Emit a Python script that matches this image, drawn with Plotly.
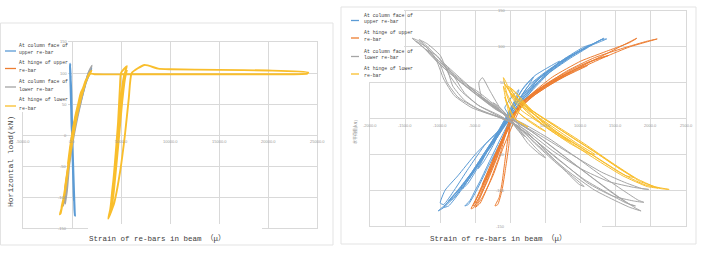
import plotly.graph_objects as go

W, H = 704, 260

# ---------------- data ----------------
SERIES_NAMES = [["At column face of", "upper re-bar"],
                ["At hinge of upper", "re-bar"],
                ["At column face of", "lower re-bar"],
                ["At hinge of lower", "re-bar"]]
COLORS = ["#5B9BD5", "#ED7D31", "#A5A5A5", "#F9BE2C"]

X_TITLE = "Strain of re-bars in beam （μ）"
Y_TITLE_L = "Horizontal load(kN)"
Y_TITLE_R = "水平荷重(kN)"

L_XTICKS = [-5000, 0, 5000, 10000, 15000, 20000, 25000]
L_YTICKS = [-150, -100, -50, 0, 50, 100, 150]
R_XTICKS = [-2000, -1500, -1000, -500, 0, 500, 1000, 1500, 2000, 2500]
R_YTICKS = [-150, -100, -50, 0, 50, 100, 150]

# left chart (strain, load)
L_BLUE = [(0, 0), (-80, 40), (-150, 80), (-200, 110), (-180, 115), (-100, 70), (0, 10), (100, -40),
          (200, -90), (280, -125), (300, -130), (250, -120), (150, -70), (50, -15), (-50, 30),
          (-150, 90), (-120, 95), (-30, 40), (80, -30), (180, -85), (230, -110), (180, -100),
          (80, -45), (0, 0), (600, 40), (1300, 80), (2000, 108), (1700, 100), (900, 55), (200, 10), (0, 0)]
L_ORANGE = [(0, 0), (300, 25), (800, 55), (1300, 80), (900, 60), (300, 20), (-300, -40), (-700, -85),
            (-400, -55), (0, 0)]
L_GRAY = [(0, 0), (400, 30), (900, 60), (1500, 90), (2040, 112), (1800, 105), (1200, 75), (500, 30),
          (-100, -20), (-500, -70), (-800, -105), (-900, -114), (-700, -100), (-300, -50), (200, 10),
          (800, 55), (1600, 95), (1900, 108), (1500, 90), (800, 45), (100, -10), (-400, -65),
          (-700, -111), (-500, -90), (0, 0)]
L_YELLOW = [(0, 0), (300, 25), (600, 45), (400, 35), (100, 10), (-200, -20), (-400, -45), (-250, -30), (0, 0),
            (400, 35), (800, 60), (1100, 75), (900, 68), (500, 40), (100, 5), (-300, -40), (-600, -72),
            (-800, -95), (-650, -85), (-350, -50), (0, -10),
            (400, 30), (900, 62), (1300, 82), (1600, 92), (1400, 88), (1000, 68), (500, 35), (0, -5),
            (-400, -55), (-800, -98), (-1100, -118), (-1000, -115), (-700, -88), (-300, -45), (100, 5),
            (600, 42), (1100, 72), (1500, 90), (1800, 98), (2000, 104), (1700, 98), (1200, 75), (700, 45),
            (200, 5), (-300, -45), (-700, -90), (-1000, -115), (-1250, -128), (-1150, -126), (-850, -100),
            (-450, -60), (0, -5),
            (500, 40), (1000, 70), (1500, 90), (1900, 99), (2300, 98), (6000, 98), (12000, 98),
            (18000, 98), (24000, 99), (24100, 101), (20000, 104), (15000, 105), (10000, 106),
            (8800, 107), (7400, 113), (6100, 100), (5800, 60), (5400, 0), (4900, -60), (4300, -110),
            (3700, -135), (3900, -120), (4300, -60), (4700, 20), (4900, 80), (5000, 100), (5600, 111),
            (5300, 95), (5000, 60), (4600, -20), (4100, -90), (3900, -125), (4200, -100), (4700, -20),
            (5100, 50), (5400, 90), (5600, 105)]

# right chart (strain, load)
R_BLUE = [(0, 0), (-80, 15), (20, 30), (120, 40), (60, 25), (-50, 5), (-150, -15), (-250, -35), (-180, -25),
          (-60, -5), (50, 20), (200, 45), (330, 58), (250, 45), (80, 20), (-100, -5), (-250, -30),
          (-380, -55), (-460, -70), (-380, -60), (-250, -38), (-120, -12),
          (0, 12), (150, 38), (350, 60), (550, 72), (700, 80), (600, 70), (400, 55), (200, 32), (0, 5),
          (-200, -22), (-380, -50), (-550, -78), (-680, -98), (-600, -90), (-450, -66), (-300, -40),
          (-150, -15), (0, 8), (250, 45), (500, 65), (800, 85), (1000, 95), (1120, 102), (950, 92),
          (700, 78), (400, 55), (150, 22), (-100, -10), (-350, -45), (-550, -75), (-750, -100),
          (-880, -115), (-820, -112), (-650, -90), (-450, -60), (-250, -30), (-80, -5),
          (100, 25), (400, 55), (750, 80), (1050, 98), (1250, 106), (1370, 111), (1300, 110),
          (1100, 100), (850, 86), (550, 64), (250, 35), (0, 5), (-250, -35), (-500, -70), (-720, -98),
          (-900, -118), (-1030, -129), (-960, -125), (-780, -108), (-560, -80), (-350, -48),
          (-150, -18), (50, 15), (350, 52), (700, 78), (1000, 95), (1250, 108), (1330, 112),
          (1200, 105), (950, 92), (600, 68), (300, 38), (50, 8), (-200, -28), (-450, -62), (-700, -95),
          (-950, -124), (-880, -122), (-700, -100), (-480, -68), (-250, -32), (0, 0),
          (-150, -30), (-300, -60), (-420, -85), (-500, -100), (-580, -115), (-650, -122), (-600, -120),
          (-480, -100), (-330, -70), (-150, -35), (0, -5), (200, 32), (500, 60), (850, 84), (1180, 104),
          (1050, 100), (750, 82), (400, 52), (100, 12), (-200, -20), (-500, -50), (-750, -80),
          (-930, -100), (-1000, -118), (-950, -120), (-800, -100), (-600, -70), (-350, -35), (0, 0)]
R_ORANGE = [(0, 0), (80, 12), (160, 22), (100, 14), (0, 0), (-60, -15), (-120, -30), (-80, -22), (0, -5),
            (120, 18), (300, 32), (450, 42), (350, 35), (180, 22), (40, 5), (-80, -20), (-180, -42),
            (-250, -58), (-200, -50), (-100, -30), (0, -8),
            (150, 22), (400, 40), (650, 55), (850, 65), (700, 58), (450, 44), (200, 25), (30, 2),
            (-120, -30), (-250, -58), (-350, -80), (-400, -92), (-330, -82), (-200, -55), (-60, -20),
            (150, 20), (450, 42), (800, 62), (1100, 78), (1400, 88), (1250, 84), (950, 72), (600, 54),
            (300, 34), (80, 8), (-100, -25), (-260, -60), (-380, -88), (-470, -108), (-510, -118),
            (-450, -112), (-330, -88), (-180, -52), (-40, -12),
            (200, 25), (600, 50), (1000, 72), (1400, 92), (1800, 112), (1700, 106), (1400, 95),
            (1000, 80), (600, 58), (250, 30), (50, 5), (-120, -32), (-300, -72), (-450, -105),
            (-560, -126), (-520, -124), (-420, -104), (-280, -70), (-120, -30),
            (150, 18), (550, 46), (950, 68), (1350, 86), (1700, 100), (2090, 111), (1950, 108),
            (1600, 98), (1200, 85), (800, 66), (400, 40), (100, 10), (-100, -28), (-280, -68),
            (-420, -100), (-530, -122), (-470, -118), (-330, -86), (-180, -48), (0, 0),
            (-40, -30), (-80, -60), (-120, -90), (-160, -110), (-220, -122), (-180, -120), (-120, -100),
            (-70, -70), (-20, -35), (0, 0), (300, 30), (700, 55), (1100, 74), (900, 68), (500, 45),
            (150, 15), (-100, -40), (-250, -80), (-400, -110), (-500, -124), (-430, -118), (-300, -90),
            (-150, -50), (0, 0)]
R_GRAY = [(0, 0), (-100, 10), (-250, 22), (-180, 18), (-50, 5), (80, -10), (200, -25), (120, -18), (0, -3),
          (-150, 12), (-400, 30), (-600, 45), (-500, 40), (-300, 25), (-80, 6), (150, -18), (350, -40),
          (500, -55), (420, -50), (250, -35), (80, -12),
          (-200, 15), (-500, 35), (-800, 60), (-1000, 78), (-900, 72), (-780, 55), (-650, 35),
          (-450, 18), (-200, 5), (100, -10), (350, -35), (650, -62), (900, -82), (1050, -95),
          (980, -92), (800, -75), (550, -50), (300, -25), (50, -3),
          (-250, 18), (-600, 45), (-900, 70), (-1150, 92), (-1300, 104), (-1400, 112), (-1300, 108),
          (-1150, 95), (-1000, 75), (-900, 50), (-750, 30), (-500, 15), (-250, 5), (50, -8),
          (400, -38), (800, -72), (1200, -100), (1500, -115), (1700, -124), (1860, -129),
          (1800, -126), (1550, -110), (1200, -85), (800, -55), (400, -25), (100, -5),
          (-300, 20), (-700, 50), (-1000, 75), (-1250, 100), (-1350, 108), (-1200, 100), (-1050, 80),
          (-950, 55), (-800, 32), (-550, 15), (-300, 6), (0, -4), (350, -30), (750, -62),
          (1100, -90), (1450, -108), (1750, -115), (1900, -117), (1820, -114), (1600, -100),
          (1300, -80), (950, -55), (550, -28), (200, -8),
          (-200, 12), (-550, 38), (-850, 62), (-1100, 85), (-1200, 96), (-1050, 88), (-900, 68),
          (-820, 45), (-650, 25), (-400, 10), (-150, 2), (200, -15), (600, -45), (1000, -70),
          (1400, -88), (1750, -96), (1970, -99), (1880, -98), (1650, -90), (1300, -75), (900, -52),
          (500, -28), (150, -8), (0, 0), (-400, 28), (-450, 50), (-400, 57), (-300, 40),
          (-150, 15), (0, 0),
          (-350, 25), (-700, 55), (-1000, 82), (-1200, 102), (-1300, 110), (-1180, 104), (-1000, 88),
          (-880, 62), (-700, 38), (-450, 18), (-150, 4), (250, -22), (650, -55), (1050, -85),
          (1400, -105), (1650, -118), (1780, -122), (1700, -120), (1450, -104), (1100, -78),
          (700, -48), (300, -18), (0, 0)]
R_YELLOW = [(0, 0), (-40, 15), (-80, 30), (-50, 22), (20, 5), (120, -5), (250, -12), (180, -8), (60, 0),
            (-60, 25), (-100, 45), (-80, 40), (0, 20), (150, 5), (350, -8), (500, -18), (420, -14),
            (250, -3), (80, 12),
            (-50, 35), (-100, 57), (-60, 50), (20, 30), (150, 12), (400, -5), (650, -20), (850, -32),
            (750, -28), (500, -12), (250, 8), (50, 28),
            (-80, 48), (-20, 40), (100, 22), (350, 5), (650, -15), (950, -35), (1200, -50),
            (1100, -48), (850, -35), (550, -15), (300, 5), (100, 25),
            (0, 42), (80, 35), (250, 15), (550, -5), (900, -28), (1250, -50), (1550, -70), (1750, -82),
            (1650, -80), (1350, -62), (1000, -40), (650, -18), (350, 5), (120, 25),
            (-30, 45), (60, 38), (300, 12), (650, -10), (1050, -35), (1450, -62), (1800, -84),
            (2050, -95), (2260, -99), (2150, -98), (1900, -92), (1550, -75), (1150, -50), (750, -25),
            (400, 0), (150, 22), (0, 35),
            (100, 28), (350, 8), (700, -15), (1100, -40), (1500, -66), (1850, -88), (2100, -97),
            (1950, -95), (1600, -80), (1200, -56), (800, -30), (450, -5), (200, 18), (0, 0)]

LEFT_DATA = [L_BLUE, L_ORANGE, L_GRAY, L_YELLOW]
RIGHT_DATA = [R_BLUE, R_ORANGE, R_GRAY, R_YELLOW]
LEFT_WIDTHS = [2.0, 1.6, 1.6, 1.9]


def pxx(x):
    return x / W


def pxy(y):
    return 1 - y / H


fig = go.Figure()

for i, data in enumerate(LEFT_DATA):
    fig.add_trace(go.Scatter(x=[p[0] for p in data], y=[p[1] for p in data], mode="lines",
                             line=dict(color=COLORS[i], width=LEFT_WIDTHS[i], shape="spline", smoothing=0.5),
                             xaxis="x", yaxis="y", showlegend=False, hoverinfo="skip"))
for i, data in enumerate(RIGHT_DATA):
    fig.add_trace(go.Scatter(x=[p[0] for p in data], y=[p[1] for p in data], mode="lines",
                             line=dict(color=COLORS[i], width=1.0, shape="spline", smoothing=0.5),
                             xaxis="x2", yaxis="y2", showlegend=False, hoverinfo="skip"))

GRID = "#d9d9d9"
ax_common = dict(showticklabels=False, ticks="", showgrid=True, gridcolor=GRID, gridwidth=1,
                 zeroline=True, zerolinecolor=GRID, zerolinewidth=1,
                 showline=True, linecolor=GRID, linewidth=1, mirror=True, fixedrange=True)

fig.update_layout(
    width=W, height=H, margin=dict(l=0, r=0, t=0, b=0),
    paper_bgcolor="white", plot_bgcolor="white",
    xaxis=dict(domain=[pxx(23), pxx(317)], range=[-5000, 25000], dtick=5000, tick0=0,
               anchor="y", **ax_common),
    yaxis=dict(domain=[pxy(228), pxy(42)], range=[-150, 150], dtick=50, tick0=0,
               anchor="x", **ax_common),
    xaxis2=dict(domain=[pxx(370), pxx(686)], range=[-2000, 2500], dtick=500, tick0=0,
                anchor="y2", **ax_common),
    yaxis2=dict(domain=[pxy(226), pxy(11)], range=[-150, 150], dtick=50, tick0=0,
                anchor="x2", **ax_common),
)

shapes = []
annotations = []

# panel frames
shapes.append(dict(type="rect", xref="paper", yref="paper", x0=pxx(0.5), x1=pxx(333),
                   y0=pxy(245), y1=pxy(23), line=dict(color="#e3e3e3", width=1), layer="below"))
shapes.append(dict(type="rect", xref="paper", yref="paper", x0=pxx(341), x1=pxx(696),
                   y0=pxy(244), y1=pxy(7), line=dict(color="#e3e3e3", width=1), layer="below"))

# white boxes behind legends and axis titles
for (x0, y0, x1, y1) in [(1, 33, 68, 112), (342, 8, 404, 82), (88, 224, 262, 244), (430, 223, 602, 243)]:
    shapes.append(dict(type="rect", xref="paper", yref="paper", x0=pxx(x0), x1=pxx(x1),
                       y0=pxy(y1), y1=pxy(y0), line=dict(width=0), fillcolor="white", layer="above"))

TICKFONT = dict(family="Liberation Sans, Arial", size=4, color="#9a9a9a")
TEXTFONT = "Liberation Mono, DejaVu Sans Mono, Noto Sans CJK JP"

# tick labels placed at the axes crossing (Excel style)
for v in L_XTICKS:
    annotations.append(dict(x=v, y=0, xref="x", yref="y", text=f"{v:.1f}", showarrow=False,
                            yshift=-6, font=TICKFONT, xanchor="center", yanchor="middle"))
for v in L_YTICKS:
    annotations.append(dict(x=0, y=v, xref="x", yref="y", text=f"{v}", showarrow=False,
                            xshift=-3, font=TICKFONT, xanchor="right", yanchor="middle"))
for v in R_XTICKS:
    annotations.append(dict(x=v, y=0, xref="x2", yref="y2", text=f"{v:.1f}", showarrow=False,
                            yshift=-7, font=TICKFONT, xanchor="center", yanchor="middle"))
for v in R_YTICKS:
    annotations.append(dict(x=0, y=v, xref="x2", yref="y2", text=f"{v}", showarrow=False,
                            xshift=-3, font=TICKFONT, xanchor="right", yanchor="middle"))

# axis titles
annotations.append(dict(x=pxx(157), y=pxy(238), xref="paper", yref="paper", text=X_TITLE,
                        showarrow=False, font=dict(family=TEXTFONT, size=7.5, color="#404040"),
                        xanchor="center", yanchor="middle"))
annotations.append(dict(x=pxx(498), y=pxy(238), xref="paper", yref="paper", text=X_TITLE,
                        showarrow=False, font=dict(family=TEXTFONT, size=7.5, color="#404040"),
                        xanchor="center", yanchor="middle"))
annotations.append(dict(x=pxx(10), y=pxy(162), xref="paper", yref="paper", text=Y_TITLE_L,
                        showarrow=False, textangle=-90,
                        font=dict(family=TEXTFONT, size=8, color="#404040"),
                        xanchor="center", yanchor="middle"))
annotations.append(dict(x=pxx(355), y=pxy(132), xref="paper", yref="paper", text=Y_TITLE_R,
                        showarrow=False, textangle=-90,
                        font=dict(family="Noto Sans CJK JP", size=4, color="#8c8c8c"),
                        xanchor="center", yanchor="middle"))

# manual legends
LEGEND_FONT = dict(family=TEXTFONT, size=4.8, color="#404040")
left_centers = [49, 66.5, 85, 104]
right_centers = [18.5, 36, 54.5, 72]
for i, name in enumerate(SERIES_NAMES):
    for (cy, lx0, lx1, tx, gap) in [(left_centers[i], 5, 16, 17, 4), (right_centers[i], 351, 359, 362, 3.4)]:
        shapes.append(dict(type="line", xref="paper", yref="paper", x0=pxx(lx0), x1=pxx(lx1),
                           y0=pxy(cy + 2), y1=pxy(cy + 2), line=dict(color=COLORS[i], width=1.3),
                           layer="above"))
        annotations.append(dict(x=pxx(tx), y=pxy(cy - gap), xref="paper", yref="paper", text=name[0],
                                showarrow=False, font=LEGEND_FONT, xanchor="left", yanchor="middle"))
        annotations.append(dict(x=pxx(tx), y=pxy(cy + gap), xref="paper", yref="paper", text=name[1],
                                showarrow=False, font=LEGEND_FONT, xanchor="left", yanchor="middle"))

fig.update_layout(shapes=shapes, annotations=annotations)
fig.write_html("out.html")
